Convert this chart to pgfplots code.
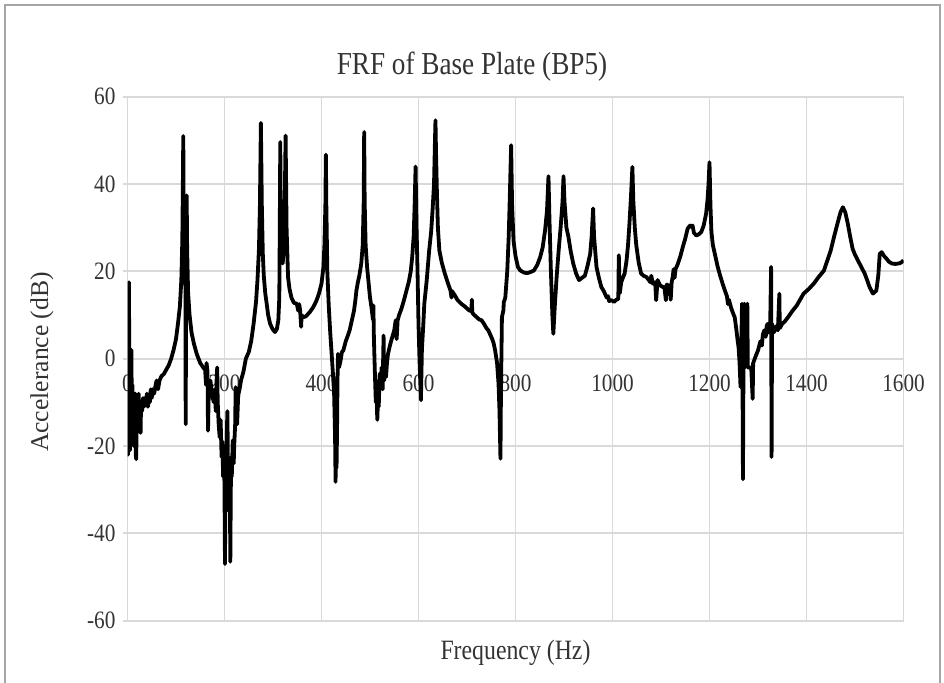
\documentclass[border=0pt]{standalone}
\usepackage{fontspec}
\setmainfont{Liberation Serif}
\newfontfamily\narrowfont[FakeStretch=0.85]{Liberation Serif}
\usepackage{pgfplots}
\pgfplotsset{compat=1.18}
\definecolor{gridgray}{HTML}{D9D9D9}
\definecolor{textgray}{HTML}{333333}
\definecolor{framegray}{HTML}{A6A6A6}

\begin{document}
\begin{tikzpicture}[x=1pt,y=1pt]
\begin{axis}[
  set layers,
  scale only axis,
  width=388pt, height=262pt,
  at={(63.75pt,30.65pt)}, anchor=south west,
  xmin=0, xmax=1600, ymin=-60, ymax=60,
  xtick={0,200,...,1600}, ytick={-60,-40,...,60},
  grid=major,
  major grid style={gridgray, line width=0.9pt},
  axis line style={draw=none},
  tick pos=left,
  tick align=outside,
  major tick length=2.5pt,
  tick style={gridgray, line width=0.9pt},
  xtick style={yshift=131pt},
  xticklabel style={yshift=129pt},
  ticklabel style={font=\narrowfont\fontsize{12.5}{14}\selectfont, text=textgray},
  /pgf/number format/assume math mode=true,
  /pgf/number format/1000 sep={},
]
\addplot[black, line width=1.9pt, line join=round] coordinates {
(0,-20) (1,-22) (2,5) (3,17.5) (4,-10) (5,-21) (6,-8) (7,-14) (8,2) (9,-12)
(10,-6) (11,-18) (12,-9) (13,-20) (14,-10) (15,-14) (16,-8) (17,-22) (18,-23) (19,-12)
(20,-15) (21,-9) (22,-13) (23,-8) (24,-12) (26,-10) (27,-17) (28,-10) (30,-12) (32,-9)
(34,-11) (36,-9) (38,-10) (40,-8) (42,-11) (44,-9) (46,-10) (48,-7) (50,-9) (52,-7)
(55,-8) (58,-6) (60,-5) (63,-7) (66,-5) (70,-4) (75,-3.5) (80,-2.5) (85,-1.5) (90,0)
(95,2) (100,4.5) (104,8) (108,12) (111,18) (113,27) (114,38) (115,51) (116,30) (118,25)
(119,36) (120,-15) (121,20) (122,37.4) (123,25) (125,15) (128,10) (132,6) (137,3.4) (143,1)
(150,-1) (156,-2) (160,-2.5) (162,-6) (163,-1) (165,-3) (166,-16.5) (168,-5) (171,-5) (174,-8)
(178,-10) (180,-7) (182,-12) (184,-4) (185,-2) (186,-10) (188,-15) (190,-18) (192,-14) (194,-22.5)
(196,-19) (197,-27) (199,-20) (200,-30) (201,-47) (202,-28) (203,-22) (204,-25) (205,-16) (206,-12)
(207,-24) (208,-30) (209,-26) (210,-35) (211,-28) (212,-46.5) (213,-30) (214,-22.5) (215,-27) (217,-18.7)
(219,-24) (220,-20) (222,-15) (223,-6.5) (224,-14) (226,-15) (228,-9) (229,-8) (231,-7) (234,-5)
(239,-3) (244,0) (250,1.5) (255,4) (260,8) (265,13) (268,18) (271,25) (273,35) (275,54)
(277,35) (279,24) (281,19) (284,15) (287,12.6) (290,10) (294,8) (299,6.8) (304,6.1) (308,6.8)
(311,8.8) (313,14) (314,30) (315,49.6) (316,30) (318,24) (320,21.8) (322,25) (324,34) (326,51.1)
(328,30) (331,18.7) (334,16) (338,14) (343,12.8) (349,12.6) (352,11) (354,12.5) (356,11) (358,7.3)
(359,10) (362,9.5) (368,9.7) (376,10.7) (383,11.8) (390,13.4) (395,15) (400,17.2) (404,21) (406,26)
(408,35) (409,46.7) (410,35) (412,20) (415,12) (418,6) (421,1) (424,-4.2) (426,-8) (428,-18)
(429,-28.2) (430,-15) (431,-25) (432,-17) (433,-5) (434,1.1) (436,-2) (438,-1.1) (440,0) (442,1.5)
(445,1.9) (450,4) (455,5.5) (458,6.5) (463,9) (467,11) (470,13.5) (472,15.6) (475,17.5) (478,19)
(482,21.8) (485,26) (487,36) (488,51.9) (489,36) (491,26) (494,21) (496,18.7) (500,14) (503,11.8)
(506,9) (507,12.2) (508,5) (510,-3) (512,-10) (513,-5) (515,-14) (517,-8) (518,-11) (520,-3.4)
(522,-6) (524,-2) (526,-7) (528,5.3) (529,-5) (531,-2) (533,-4.2) (535,-1) (537,1) (540,2.5)
(542,3.4) (546,5) (550,6.5) (553,8.8) (555,4.5) (557,8.8) (560,10) (565,11.5) (570,13.4) (575,15.5)
(580,17.6) (584,20) (587,23.3) (590,28) (592,35) (594,44) (596,30) (598,20) (600,8) (602,0)
(605,-9.5) (607,2) (610,8) (612,12.6) (617,18) (622,24.8) (626,29) (629,34) (632,40) (634,50)
(635,54.6) (636,48) (638,38) (640,30) (643,24.8) (648,22) (654,19.6) (660,17.5) (666,15.6) (668,14)
(669,15.5) (675,14.5) (680,13.5) (688,12.6) (695,12) (700,11.5) (705,11) (709,11) (710,13.5) (711,10.5)
(715,10) (720,9.5) (725,9) (730,8.8) (735,8) (740,7) (744,6.5) (748,5.5) (752,4.5) (755,3.5)
(758,1.9) (762,-1) (765,-5.7) (767,-12) (769,-22.9) (770,-8) (772,9.5) (775,11) (776,13) (779,14)
(783,20) (786,28) (788,36) (791,48.9) (793,35) (796,27) (800,23.5) (805,21) (810,20.2) (818,19.7)
(824,19.6) (830,19.8) (838,20.2) (845,21.5) (851,23.3) (856,25.5) (861,29.4) (865,34) (868,41.8) (870,32)
(873,20) (876,10) (878,5.7) (881,12) (885,19) (889,24.8) (893,30) (897,36) (899,41.8) (901,36)
(905,30) (909,28) (914,24.5) (919,21.8) (925,19.5) (931,18) (937,18.5) (943,19) (948,21) (954,24)
(957,28) (960,34.4) (962,28) (967,21) (972,18.5) (977,16.4) (982,15.5) (988,14) (991,14.3) (993,13.2)
(998,13.4) (1003,13) (1008,13.5) (1012,13.7) (1013,23.7) (1015,15) (1018,17.5) (1022,18.7) (1025,19.5) (1029,22.5)
(1032,26) (1035,31) (1038,37) (1041,43.9) (1043,36) (1046,30) (1049,26) (1054,22) (1059,19.5) (1064,19)
(1070,18.7) (1075,18) (1078,17.5) (1080,19) (1083,17.2) (1088,17.5) (1090,13.4) (1093,18) (1098,16.8) (1104,16.4)
(1107,16.4) (1110,13.4) (1112,17) (1118,16.5) (1120,13.5) (1122,17.5) (1124,18.7) (1126,20.5) (1128,18.5) (1130,20.5)
(1135,21.8) (1140,23.5) (1145,25.6) (1150,27.5) (1155,29.8) (1160,30.5) (1162,30.2) (1165,30.5) (1168,28.8) (1173,28.2)
(1178,28.5) (1183,29) (1188,30.5) (1193,33.2) (1196,36.5) (1198,40) (1200,45) (1202,35) (1204,29) (1207,26)
(1212,23.5) (1217,21) (1222,19) (1227,17.2) (1232,15.5) (1236,14.3) (1238,12.5) (1240,13.5) (1245,11.5) (1250,10)
(1252,9.5) (1255,7) (1258,4.2) (1260,2.5) (1262,-1) (1264,-6.5) (1265,-1.1) (1267,12.6) (1268,-3) (1269,-27.6)
(1270,-3) (1272,12.6) (1273,-2) (1276,-1) (1278,12.6) (1279,-2) (1283,-2) (1286,-2) (1289,-9.2) (1290,-1)
(1295,0.5) (1300,1.9) (1305,4) (1308,3) (1310,5.5) (1313,6.5) (1316,5) (1318,7.5) (1320,8) (1322,6)
(1325,7) (1327,21) (1328,-22.5) (1329,8) (1332,6) (1335,6.5) (1338,7.5) (1341,6.5) (1344,14.9) (1345,7)
(1350,8) (1355,8.5) (1362,9.5) (1370,10.8) (1380,12.2) (1394,14.9) (1405,16) (1415,17.2) (1425,18.7) (1436,20.2)
(1443,22.5) (1450,24.8) (1457,28) (1464,31) (1470,33.5) (1475,34.7) (1480,33.5) (1485,31) (1490,28) (1495,25.2)
(1500,23.8) (1506,22.5) (1513,21) (1520,19.5) (1525,18) (1530,16.4) (1537,14.9) (1544,15.6) (1548,19) (1551,24)
(1555,24.4) (1560,23.5) (1565,22.9) (1570,22.2) (1576,21.8) (1583,21.7) (1590,21.8) (1595,22) (1600,22.5)
};
\end{axis}
\node[text=textgray, font=\narrowfont\fontsize{16}{18}\selectfont] at (236pt,307.5pt) {FRF of Base Plate (BP5)};
\node[text=textgray, font=\narrowfont\fontsize{14}{16}\selectfont] at (257.75pt,14.5pt) {Frequency (Hz)};
\node[text=textgray, rotate=90, font=\fontsize{12.8}{15}\selectfont] at (21pt,160pt) {Accelerance (dB)};
\draw[framegray, line width=0.6pt] (2.5pt,-10pt) -- (2.5pt,338.5pt) -- (470pt,338.5pt) -- (470pt,-10pt);
\pgfresetboundingbox
\useasboundingbox (0,0) rectangle (472pt,341pt);
\end{tikzpicture}
\end{document}
